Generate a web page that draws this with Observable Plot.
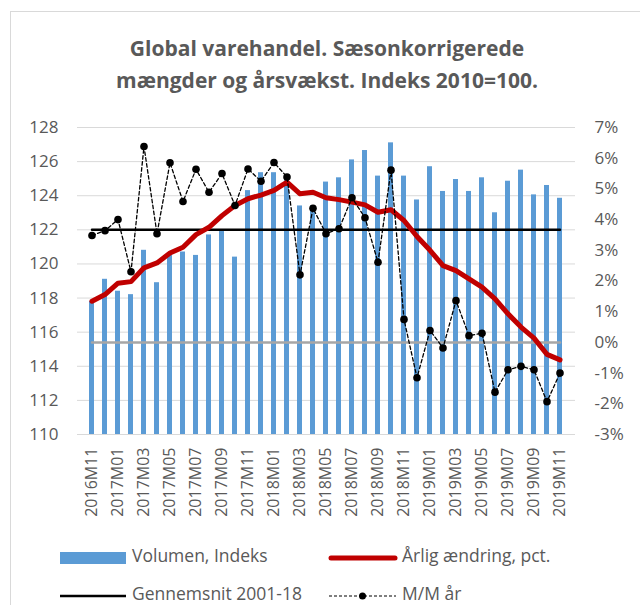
<!DOCTYPE html>
<html>
<head>
<meta charset="utf-8">
<script src="https://cdn.jsdelivr.net/npm/d3@7"></script>
<script src="https://cdn.jsdelivr.net/npm/@observablehq/plot@0.6"></script>
<style>
  html, body { margin: 0; padding: 0; background: #fff; }
  body { width: 640px; height: 605px; position: relative; overflow: hidden; font-family: "Open Sans", sans-serif; }
  #frame { position: absolute; left: 10px; top: 11px; width: 640px; height: 620px; border-left: 1px solid #d9d9d9; border-top: 1px solid #d9d9d9; }
  #title { position: absolute; left: 0; width: 654px; top: 32px; text-align: center; font-weight: bold; font-size: 21px; line-height: 32px; color: #595959; }
  #chart { position: absolute; left: 0; top: 0; }
  .leg { position: absolute; font-size: 17.5px; color: #595959; white-space: nowrap; }
  .sw { position: absolute; }
</style>
</head>
<body>
<div id="frame"></div>
<div id="chart"></div>
<div id="title">Global varehandel. Sæsonkorrigerede<br>mængder og årsvækst. Indeks 2010=100.</div>
<div id="legend"></div>
<script>
// ---- data ----
const months = ["2016M11","2016M12","2017M01","2017M02","2017M03","2017M04","2017M05","2017M06","2017M07","2017M08","2017M09","2017M10",
  "2017M11","2017M12","2018M01","2018M02","2018M03","2018M04","2018M05","2018M06","2018M07","2018M08","2018M09","2018M10",
  "2018M11","2018M12","2019M01","2019M02","2019M03","2019M04","2019M05","2019M06","2019M07","2019M08","2019M09","2019M10","2019M11"];
const volumen = [117.8,119.1,118.4,118.2,120.8,118.9,120.55,120.7,120.5,121.7,121.9,120.4,
  124.3,125.35,125.35,125.0,123.4,123.4,124.8,125.05,126.1,126.65,125.15,127.1,
  125.15,123.75,125.7,124.25,124.95,124.25,125.05,123.0,124.85,125.5,124.05,124.6,123.85];
const aarlig = [1.34,1.56,1.93,1.98,2.43,2.59,2.91,3.10,3.51,3.75,4.13,4.46,
  4.68,4.8,4.95,5.22,4.84,4.89,4.71,4.65,4.57,4.48,4.24,4.32,
  3.97,3.45,3.0,2.50,2.34,2.07,1.80,1.42,0.93,0.50,0.14,-0.39,-0.57];
const mm = [3.48,3.64,4.00,2.30,6.38,3.54,5.85,4.59,5.64,4.89,5.50,4.46,
  5.65,5.25,5.86,5.39,2.20,4.37,3.54,3.70,4.71,4.06,2.61,5.61,
  0.75,-1.15,0.39,-0.18,1.36,0.22,0.30,-1.62,-0.89,-0.78,-0.89,-1.93,-1.00];
const gennemsnit = 3.67;
const nulLinje = 0;
const leftTicks = [110,112,114,116,118,120,122,124,126,128];
const rightTicks = [-3,-2,-1,0,1,2,3,4,5,6,7];
const xTicks = months.filter((d, i) => i % 2 === 0);
const seriesNames = ["Volumen, Indeks", "Årlig ændring, pct.", "Gennemsnit 2001-18", "M/M år"];

// right axis (pct) mapped onto the left axis domain
const leftMin = 110, leftMax = 128, pMin = -3, pMax = 7;
const toLeft = p => leftMin + (p - pMin) * (leftMax - leftMin) / (pMax - pMin);

const rows = months.map((m, i) => ({
  m, vol: volumen[i], aar: toLeft(aarlig[i]), mm: toLeft(mm[i]),
  avg: toLeft(gennemsnit), zero: toLeft(nulLinje)
}));

const grey = "#595959";
const chart = Plot.plot({
  width: 640,
  height: 605,
  marginLeft: 77,
  marginRight: 65,
  marginTop: 127,
  marginBottom: 171,
  style: { fontFamily: "Open Sans", fontSize: "16px", color: grey, background: "transparent" },
  x: { type: "band", domain: months, paddingInner: 0.58, paddingOuter: 0.31 },
  y: { domain: [leftMin, leftMax] },
  marks: [
    Plot.gridY(leftTicks, { stroke: "#d9d9d9", strokeOpacity: 1, strokeWidth: 1 }),
    Plot.axisY({ ticks: leftTicks, tickSize: 0, tickPadding: 19, label: null, fontSize: 17, fill: grey }),
    Plot.axisY({ anchor: "right", ticks: rightTicks.map(toLeft), tickSize: 0, tickPadding: 19, label: null, fontSize: 17, fill: grey,
      tickFormat: v => Math.round((v - leftMin) * (pMax - pMin) / (leftMax - leftMin) + pMin) + "%" }),
    Plot.axisX({ ticks: xTicks, tickRotate: -90, tickSize: 0, tickPadding: 13, label: null, fontSize: 16, fill: grey }),
    Plot.barY(rows, { x: "m", y1: leftMin, y2: "vol", fill: "#5b9bd5" }),
    Plot.lineY(rows, { x: "m", y: "zero", stroke: "#a6a6a6", strokeWidth: 2.5 }),
    Plot.lineY(rows, { x: "m", y: "avg", stroke: "#000", strokeWidth: 2.5 }),
    Plot.lineY(rows, { x: "m", y: "aar", stroke: "#c00000", strokeWidth: 5, strokeLinejoin: "round", strokeLinecap: "round" }),
    Plot.lineY(rows, { x: "m", y: "mm", stroke: "#000", strokeWidth: 1.3, strokeDasharray: "3.5,2.5" }),
    Plot.dot(rows, { x: "m", y: "mm", r: 3.8, fill: "#000", stroke: "none" })
  ]
});
document.getElementById("chart").appendChild(chart);

// ---- legend ----
const leg = document.getElementById("legend");
const items = [
  { name: seriesNames[0], x: 60, y: 555, sw: `<svg width="66" height="14"><rect x="0" y="1" width="66" height="12" fill="#5b9bd5"/></svg>` },
  { name: seriesNames[1], x: 328, y: 555, sw: `<svg width="70" height="14"><line x1="3" y1="7" x2="67" y2="7" stroke="#c00000" stroke-width="5" stroke-linecap="round"/></svg>` },
  { name: seriesNames[2], x: 60, y: 593, sw: `<svg width="66" height="14"><line x1="0" y1="7" x2="66" y2="7" stroke="#000" stroke-width="2.5"/></svg>` },
  { name: seriesNames[3], x: 328, y: 593, sw: `<svg width="70" height="14"><line x1="1" y1="7" x2="68" y2="7" stroke="#000" stroke-width="1.2" stroke-dasharray="3,2"/><circle cx="34.5" cy="7" r="3.5" fill="#000"/></svg>` }
];
for (const it of items) {
  const s = document.createElement("div");
  s.className = "sw";
  s.style.left = it.x + "px";
  s.style.top = (it.y - 7) + "px";
  s.innerHTML = it.sw;
  leg.appendChild(s);
  const t = document.createElement("div");
  t.className = "leg";
  t.style.left = (it.x + (it.x === 60 ? 72 : 74)) + "px";
  t.style.top = (it.y - 12) + "px";
  t.style.lineHeight = "24px";
  t.textContent = it.name;
  leg.appendChild(t);
}
</script>
</body>
</html>
